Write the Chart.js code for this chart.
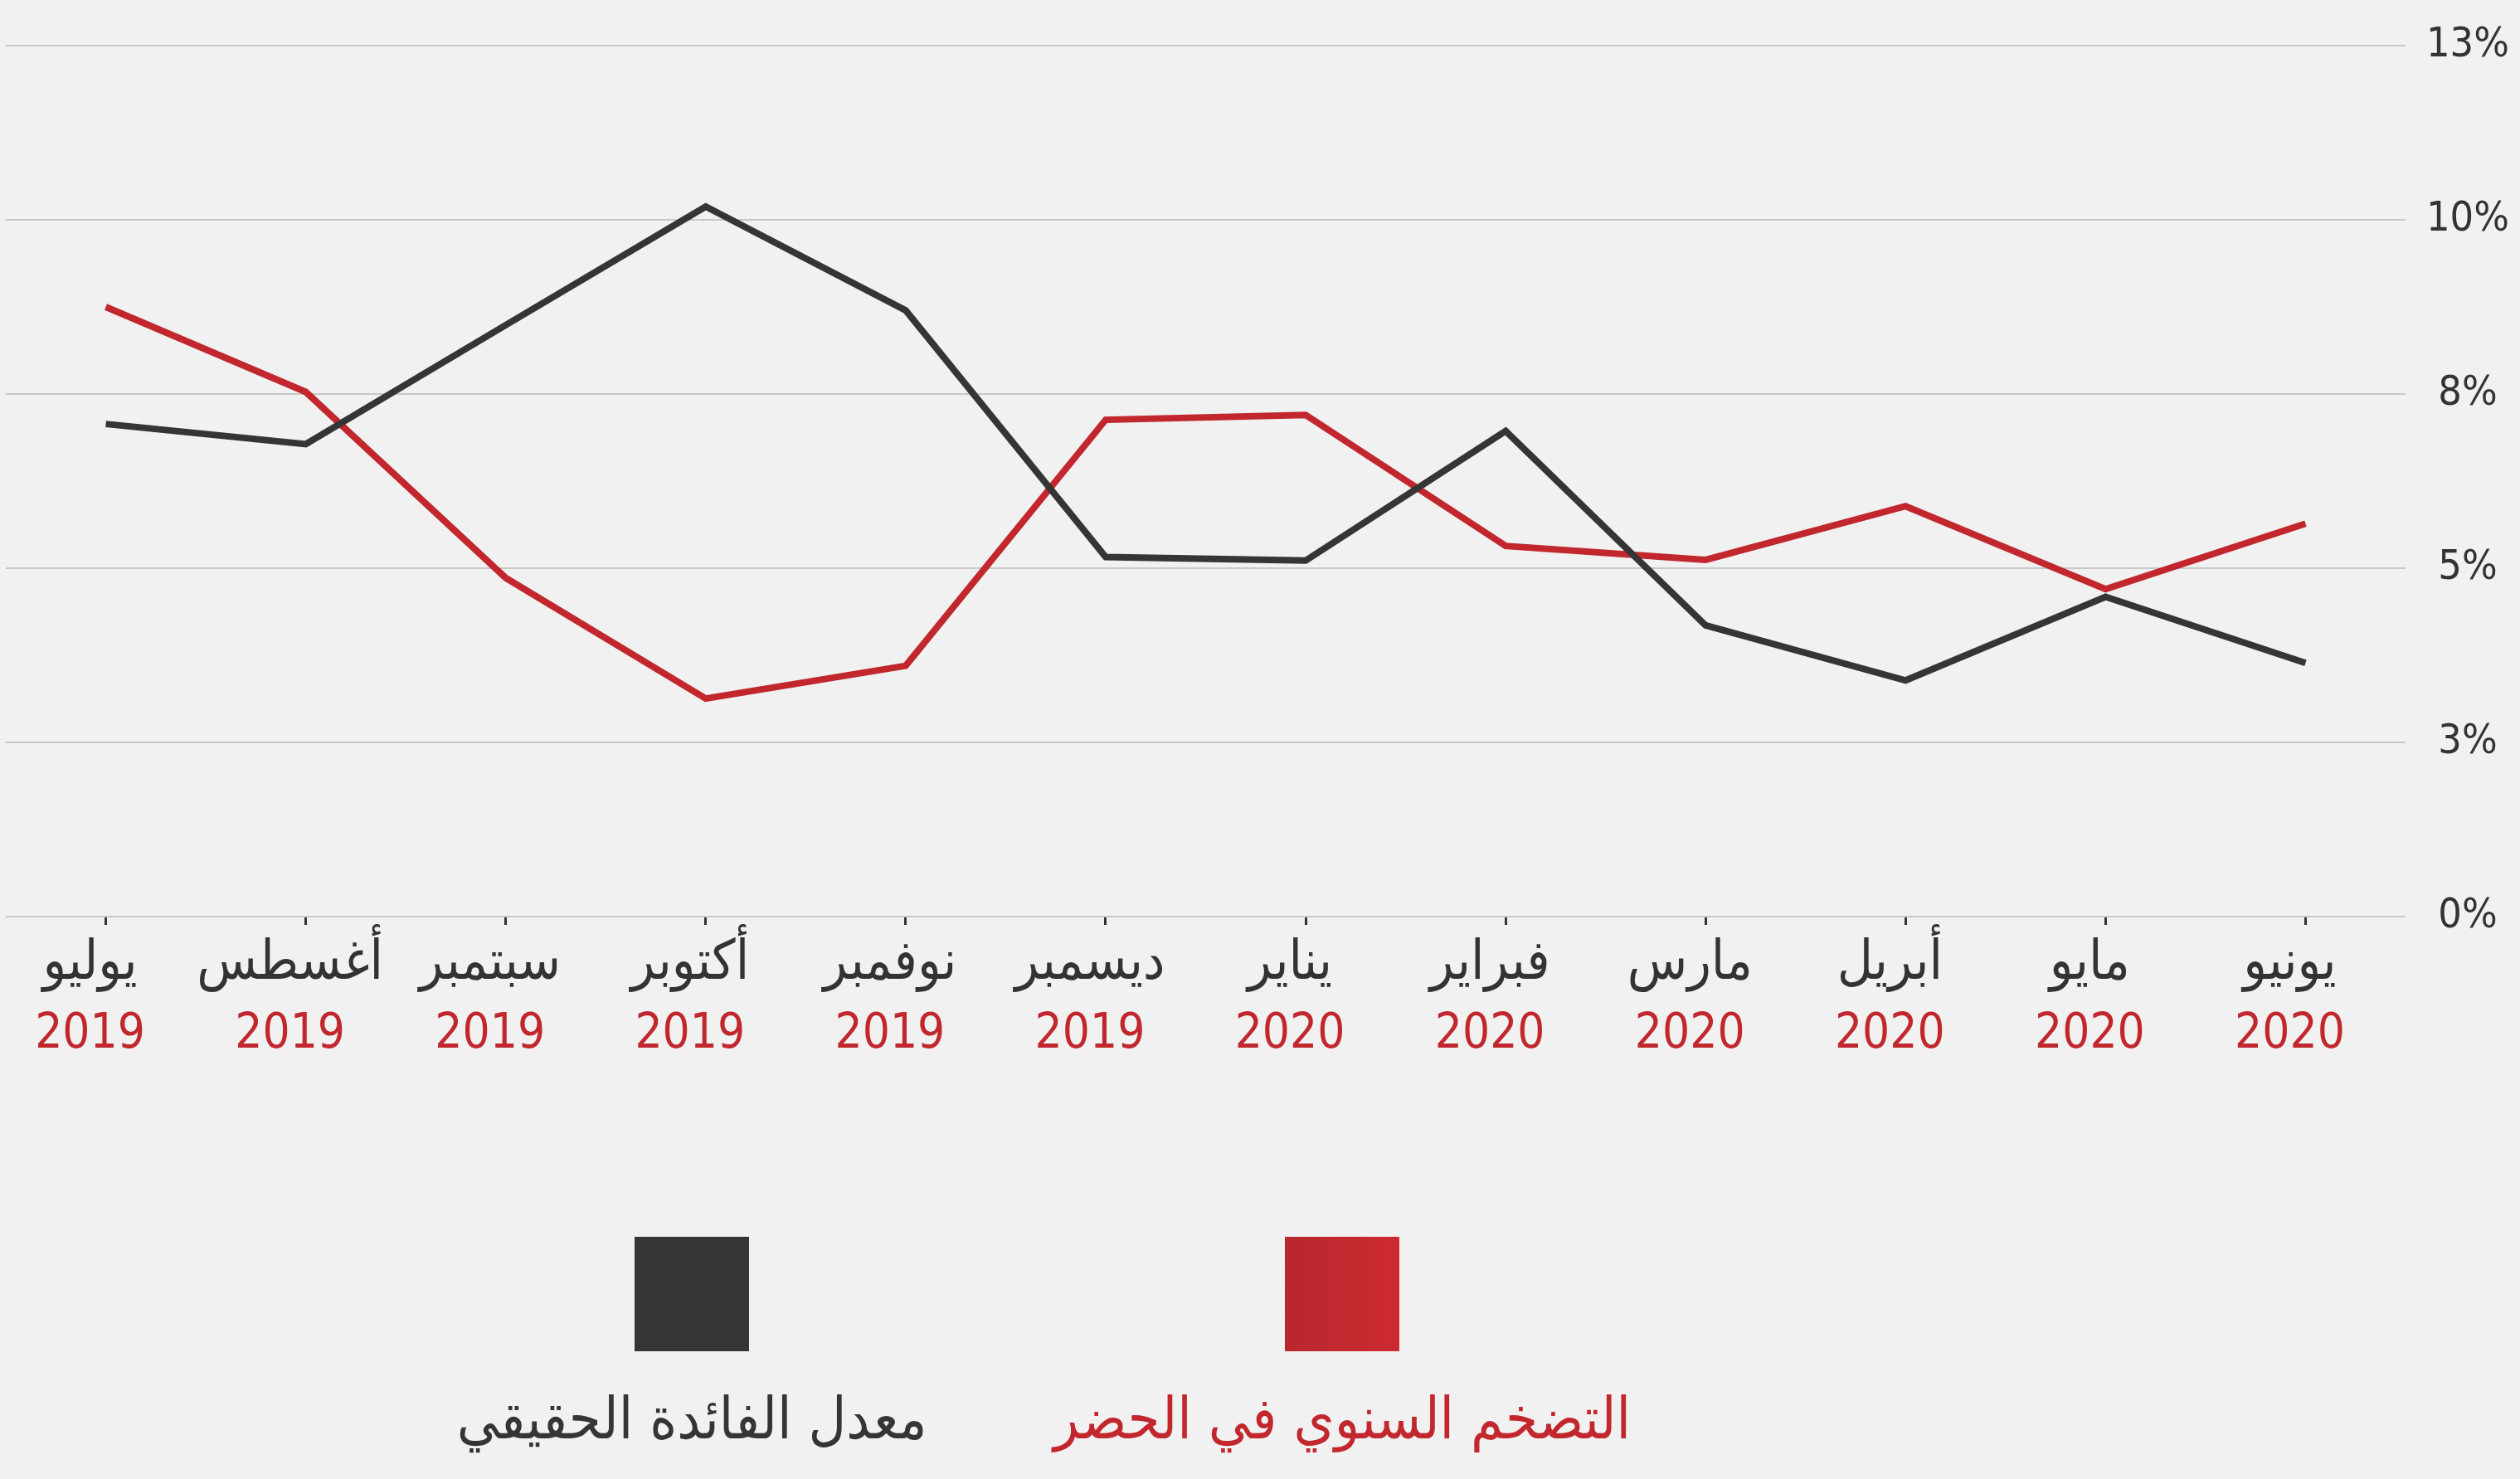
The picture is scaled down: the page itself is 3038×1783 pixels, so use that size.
<!DOCTYPE html>
<html lang="ar">
<head>
<meta charset="utf-8">
<title>معدل الفائدة الحقيقي والتضخم</title>
<script src="https://cdn.jsdelivr.net/npm/chart.js@4.4.0/dist/chart.umd.min.js"></script>
<style>
  html, body { margin: 0; padding: 0; background: #f1f1f1; }
  #wrap { width: 3038px; height: 1783px; position: relative; }
</style>
</head>
<body>
<div id="wrap"><canvas id="rateChart"></canvas></div>
<script>
// months and years shown under the x axis
var months = ['يوليو', 'أغسطس', 'سبتمبر', 'أكتوبر', 'نوفمبر', 'ديسمبر', 'يناير', 'فبراير', 'مارس', 'أبريل', 'مايو', 'يونيو'];
var years = ['2019', '2019', '2019', '2019', '2019', '2019', '2020', '2020', '2020', '2020', '2020', '2020'];

// values (%)
var realRate = [7.07, 6.78, 8.49, 10.19, 8.70, 5.16, 5.11, 6.97, 4.18, 3.39, 4.59, 3.64];
var urbanInflation = [8.75, 7.53, 4.86, 3.13, 3.60, 7.13, 7.20, 5.32, 5.12, 5.89, 4.70, 5.64];

// y axis ticks and the labels printed for them
var yTicks = [0, 2.5, 5, 7.5, 10, 12.5];
var yTickLabels = ['0%', '3%', '5%', '8%', '10%', '13%'];

var seriesNames = ['معدل الفائدة الحقيقي', 'التضخم السنوي في الحضر'];

var DARK = '#353535';
var RED = '#c1272d';
var labelFont = "'DejaVu Sans Condensed', 'DejaVu Sans', sans-serif";

// legend: tall square with the name underneath
var legendBoxes = {
  id: 'legendBoxes',
  afterDraw: function(chart) {
    var ctx = chart.ctx;
    var centers = [834, 1618];
    var size = 138;
    var top = 1491;
    ctx.save();
    chart.data.datasets.forEach(function(ds, i) {
      var cx = centers[i];
      if (i === 1) {
        var g = ctx.createLinearGradient(cx - size / 2, 0, cx + size / 2, 0);
        g.addColorStop(0, '#b7282e');
        g.addColorStop(1, '#cc2a30');
        ctx.fillStyle = g;
      } else {
        ctx.fillStyle = ds.borderColor;
      }
      ctx.fillRect(cx - size / 2, top, size, size);
      ctx.fillStyle = ds.borderColor;
      ctx.font = '70px ' + labelFont;
      ctx.textAlign = 'center';
      ctx.textBaseline = 'alphabetic';
      ctx.fillText(ds.label, cx, 1734);
    });
    ctx.restore();
  }
};

var ctx = document.getElementById('rateChart').getContext('2d');
var rateChart = new Chart(ctx, {
  type: 'line',
  data: {
    labels: months,
    datasets: [{
      label: seriesNames[0],
      data: realRate,
      borderColor: DARK,
      backgroundColor: DARK,
      borderWidth: 8,
      pointRadius: 0,
      tension: 0,
      borderJoinStyle: 'miter'
    }, {
      label: seriesNames[1],
      data: urbanInflation,
      borderColor: RED,
      backgroundColor: RED,
      borderWidth: 8,
      pointRadius: 0,
      tension: 0,
      borderJoinStyle: 'miter'
    }]
  },
  options: {
    responsive: true,
    maintainAspectRatio: false,
    animation: false,
    layout: { padding: { left: 7, top: 55, right: 0, bottom: 502 } },
    plugins: {
      legend: { display: false },
      tooltip: { enabled: false }
    },
    scales: {
      x: {
        type: 'category',
        offset: true,
        grid: {
          offset: false,
          drawOnChartArea: false,
          drawTicks: true,
          tickLength: 10,
          tickWidth: 3,
          tickColor: '#333333'
        },
        border: { display: false },
        ticks: {
          autoSkip: false,
          maxRotation: 0,
          padding: 12,
          labelOffset: -19,
          color: '#333333',
          font: { family: labelFont, size: 66, lineHeight: 1.1 }
        },
        afterFit: function(scale) { scale.height = 96; }
      },
      x2: {
        type: 'category',
        labels: years,
        offset: true,
        position: 'bottom',
        grid: { display: false },
        border: { display: false },
        ticks: {
          autoSkip: false,
          maxRotation: 0,
          padding: 4,
          labelOffset: -19,
          color: RED,
          font: { family: labelFont, size: 58 }
        },
        afterFit: function(scale) { scale.height = 80; }
      },
      y: {
        position: 'right',
        min: 0,
        max: 12.5,
        afterBuildTicks: function(scale) {
          scale.ticks = yTicks.map(function(v) { return { value: v }; });
        },
        grid: {
          color: '#c8c8c8',
          lineWidth: 2,
          drawTicks: false
        },
        border: { display: false },
        ticks: {
          padding: 25,
          crossAlign: 'center',
          color: '#333333',
          font: { family: labelFont, size: 50 },
          callback: function(value, index) { return yTickLabels[index]; }
        },
        afterFit: function(scale) { scale.width = 138; }
      }
    }
  },
  plugins: [legendBoxes]
});
</script>
</body>
</html>
